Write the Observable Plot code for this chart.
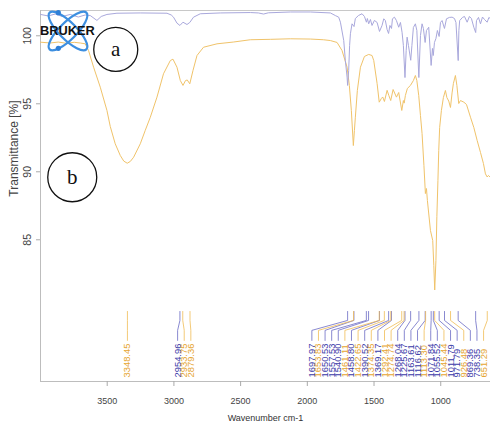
<!DOCTYPE html>
<html><head><meta charset="utf-8">
<script src="https://cdn.jsdelivr.net/npm/d3@7"></script>
<script src="https://cdn.jsdelivr.net/npm/@observablehq/plot@0.6"></script>
<style>body{margin:0;background:#fff}#chart{width:490px;height:425px}</style>
</head><body><div id="chart"></div>
<script>
// Spectrum a (purple)
const waveA = [4000,3942,3890,3837,3777,3717,3665,3627,3577,3545,3502,3427,3252,3052,3020,3003,2977,2955,2932,2902,2881,2853,2802,2652,2427,2367,2328,2292,2127,1977,1827,1790,1765,1752,1727,1715,1702,1698,1690,1683,1677,1665,1650,1640,1617,1590,1572,1557,1550,1540,1527,1515,1497,1477,1459,1440,1427,1415,1402,1391,1381,1369,1362,1347,1332,1315,1302,1290,1280,1268,1259,1252,1242,1225,1216,1205,1190,1179,1164,1152,1140,1130,1117,1107,1090,1072,1062,1056,1047,1036,1025,1012,1002,990,972,957,935,915,897,886,869,864,858,837,822,802,785,770,752,738,732,717,702,687,672,652,639,627];
const transA = [101.57,101.46,101.60,101.42,101.57,101.38,101.53,101.49,101.13,101.42,101.57,101.66,101.68,101.66,101.53,101.37,100.93,100.76,101.00,100.83,100.98,101.37,101.62,101.68,101.71,101.68,101.60,101.69,101.75,101.75,101.68,101.49,101.37,101.00,99.65,98.18,96.96,96.35,97.45,99.29,100.15,100.88,100.68,101.27,101.49,101.62,101.42,101.00,101.27,100.88,101.20,100.76,101.13,100.98,100.32,100.76,101.25,101.12,100.46,100.17,100.76,100.54,101.25,101.37,101.12,100.63,100.98,100.26,99.29,96.93,98.92,99.90,99.29,98.20,99.29,100.61,100.88,100.39,96.93,100.02,100.88,100.54,99.51,100.39,100.63,97.82,99.07,98.55,99.51,99.80,100.39,99.95,100.98,101.12,100.54,101.25,101.35,101.37,101.27,100.98,98.18,100.39,101.12,101.35,101.42,101.00,101.42,101.27,100.63,100.24,101.12,101.35,100.88,101.38,101.20,101.00,101.35,101.25];
// Spectrum b (orange)
const waveB = [4000,3927,3867,3807,3747,3702,3665,3640,3602,3552,3502,3477,3440,3402,3376,3350,3327,3302,3252,3215,3177,3127,3078,3027,3007,2977,2952,2932,2913,2900,2881,2857,2827,2778,2677,2555,2427,2277,2127,1977,1880,1827,1777,1740,1702,1685,1670,1655,1647,1640,1625,1602,1572,1540,1515,1502,1477,1461,1445,1435,1422,1402,1389,1375,1357,1332,1315,1292,1280,1274,1265,1250,1227,1205,1190,1179,1165,1152,1140,1126,1115,1107,1100,1077,1060,1052,1045,1036,1029,1021,1015,1008,995,980,965,954,940,927,915,905,890,879,865,852,827,807,777,752,727,702,680,665,652,642,627];
const transB = [99.53,99.47,99.54,99.45,99.52,99.47,99.41,98.92,97.69,96.22,94.51,93.33,92.06,91.20,90.79,90.63,90.76,91.07,92.06,93.04,94.01,95.49,97.21,98.18,98.28,97.69,96.71,96.35,96.71,96.75,96.47,97.45,98.55,99.16,99.41,99.54,99.71,99.74,99.78,99.76,99.71,99.65,99.51,98.92,97.69,96.35,94.51,91.93,93.04,94.01,95.98,97.69,98.48,98.63,98.55,98.18,96.49,95.12,95.39,95.50,95.17,95.99,95.61,95.24,96.05,95.49,95.83,94.51,95.24,95.05,95.61,96.13,96.35,96.71,97.08,96.71,95.61,94.14,92.82,90.46,88.40,88.77,87.89,85.68,84.95,83.11,81.31,83.48,86.71,89.36,91.57,93.26,94.51,95.46,95.98,95.46,95.20,94.73,95.80,96.50,97.08,96.35,95.02,95.24,95.12,94.95,94.01,93.26,92.30,91.42,90.61,89.85,89.62,89.73,89.58];
// Peak picks
const peaksA = [2954.96,1697.97,1650.53,1557.53,1540.90,1458.80,1390.52,1369.17,1268.04,1225.67,1163.61,1116.62,1071.84,1055.52,1011.79,971.79,869.36,738.35];
const peaksB = [3348.45,2933.75,2879.36,1653.83,1461.11,1422.65,1374.35,1292.41,1274.74,1113.30,1045.44,926.48,651.29];
// Axes
const xTicks = [3500,3000,2500,2000,1500,1000];
const yTicks = [85,90,95,100];
const xDomain = [4000,627];
const yDomain = [74.58,101.86];
// Annotations
const annoText = ["a","b"];
const annoWave = [3436,3762];
const annoTrans = [99.0,89.6];

const colA = "#a9a8dc", colB = "#f0c36a";
const txtA = "#3a3aa8", txtB = "#e6a530";
const lineA = "#6b6bc4", lineB = "#f0bd55";

const specA = waveA.map((w,i)=>({w, t: transA[i]}));
const specB = waveB.map((w,i)=>({w, t: transB[i]}));

// label layout: spread overlapping peak labels (in wavenumber units)
function spread(anchors, gap, lo, hi) {
  let clusters = anchors.map(a => ({sum: a, n: 1, start: a}));
  const place = c => { let s = c.sum / c.n - (c.n - 1) * gap / 2; s = Math.max(lo, Math.min(hi - (c.n - 1) * gap, s)); c.start = s; };
  clusters.forEach(place);
  let merged = true;
  while (merged) {
    merged = false;
    for (let i = 0; i < clusters.length - 1; i++) {
      const a = clusters[i], b = clusters[i+1];
      if (a.start + a.n * gap > b.start + 1e-9) {
        const c = {sum: a.sum + b.sum, n: a.n + b.n};
        place(c); clusters.splice(i, 2, c); merged = true; break;
      }
    }
  }
  const out = [];
  clusters.forEach(c => { for (let k = 0; k < c.n; k++) out.push(c.start + k * gap); });
  return out;
}
const peaks = peaksA.map(p=>({p, s:"a"})).concat(peaksB.map(p=>({p, s:"b"}))).sort((a,b)=>b.p-a.p);
const edgePad = 26; // keep the last label inside the frame (cm-1)
const pos = spread(peaks.map(d=>-d.p), 49.5, -xDomain[0], -(xDomain[1] + 2 * edgePad));
peaks.forEach((d,i)=>{ d.lw = -pos[i]; d.label = d3.format(".2f")(d.p); d.id = i; });
const LEAD = [79.73, 79.07, 78.34, 77.60];
const leaders = peaks.flatMap(d => [
  {id: d.id, s: d.s, w: d.p, t: LEAD[0]},
  {id: d.id, s: d.s, w: d.p, t: LEAD[1]},
  {id: d.id, s: d.s, w: d.lw, t: LEAD[2]},
  {id: d.id, s: d.s, w: d.lw, t: LEAD[3]}
]);

const font = "'Liberation Sans', Arial, sans-serif";
const svg = Plot.plot({
  width: 490, height: 425,
  marginTop: 10, marginRight: 0, marginBottom: 44, marginLeft: 40,
  x: {domain: xDomain, label: null},
  y: {domain: yDomain, axis: null, label: null},
  style: {fontFamily: font, background: "#fff"},
  marks: [
    Plot.ruleY([yDomain[1]], {stroke: "#c8c8c8"}),
    Plot.ruleY([yDomain[0]], {stroke: "#bdbdbd"}),
    Plot.ruleX([xDomain[0]], {stroke: "#bdbdbd"}),
    Plot.axisX(xTicks, {tickSize: 5, tickPadding: 11, fontSize: 9, stroke: "#aaa", fill: "#444", tickFormat: "d", label: null}),
    Plot.axisY(yTicks, {tickSize: 4, tickFormat: () => "", stroke: "#aaa", label: null}),
    Plot.text(yTicks, {y: d=>d, text: d=>String(d), frameAnchor: "left", dx: -13, rotate: -90, textAnchor: "middle", lineAnchor: "middle", fontSize: 10.5, fill: "#444"}),
    Plot.text(["Transmittance [%]"], {frameAnchor: "top-left", dx: -26, dy: 138, rotate: -90, textAnchor: "middle", lineAnchor: "middle", fontSize: 12, fill: "#444"}),
    Plot.text(["Wavenumber cm-1"], {frameAnchor: "bottom", dy: 37, lineAnchor: "middle", fontSize: 9, fill: "#333"}),
    Plot.line(specB, {x: "w", y: "t", stroke: colB, strokeWidth: 1}),
    Plot.line(specA, {x: "w", y: "t", stroke: colA, strokeWidth: 1}),
    Plot.line(leaders.filter(d=>d.s==="a"), {x: "w", y: "t", z: "id", stroke: lineA, strokeWidth: 0.8}),
    Plot.line(leaders.filter(d=>d.s==="b"), {x: "w", y: "t", z: "id", stroke: lineB, strokeWidth: 0.8}),
    Plot.text(peaks.filter(d=>d.s==="a"), {x: "lw", text: "label", frameAnchor: "bottom", dy: -4, rotate: -90, textAnchor: "start", lineAnchor: "middle", fontSize: 9.4, fill: txtA}),
    Plot.text(peaks.filter(d=>d.s==="b"), {x: "lw", text: "label", frameAnchor: "bottom", dy: -4, rotate: -90, textAnchor: "start", lineAnchor: "middle", fontSize: 9.4, fill: txtB}),
    ...annoText.map((s,i) => Plot.dot([i], {x: ()=>annoWave[i], y: ()=>annoTrans[i], r: i===0 ? 22 : 24.5, stroke: "#111", strokeWidth: 1.3, fill: "#fff"})),
    Plot.text(annoText, {x: (d,i)=>annoWave[i], y: (d,i)=>annoTrans[i], text: d=>d, fontSize: 21, fontFamily: "'Liberation Serif', 'Times New Roman', serif", fill: "#111"})
  ]
});
// Bruker logo
const g = d3.select(svg).append("g").attr("transform", "translate(68,31)");
[-45, 45].forEach(a => g.append("ellipse").attr("rx", 26).attr("ry", 8.5).attr("transform", `rotate(${a})`).attr("fill", "none").attr("stroke", "#3d8fe0").attr("stroke-width", 2.2));
[[-9.7,-18.3],[-9.7,17.3]].forEach(([cx,cy]) => g.append("circle").attr("cx", cx).attr("cy", cy).attr("r", 2.6).attr("fill", "#2f7fd6"));
g.append("text").attr("x", -0.7).attr("y", 4).attr("text-anchor", "middle").attr("font-family", font).attr("font-weight", "bold").attr("font-size", 12.8).attr("fill", "#111").text("BRUKER");
document.getElementById("chart").appendChild(svg);
</script>
</body></html>
